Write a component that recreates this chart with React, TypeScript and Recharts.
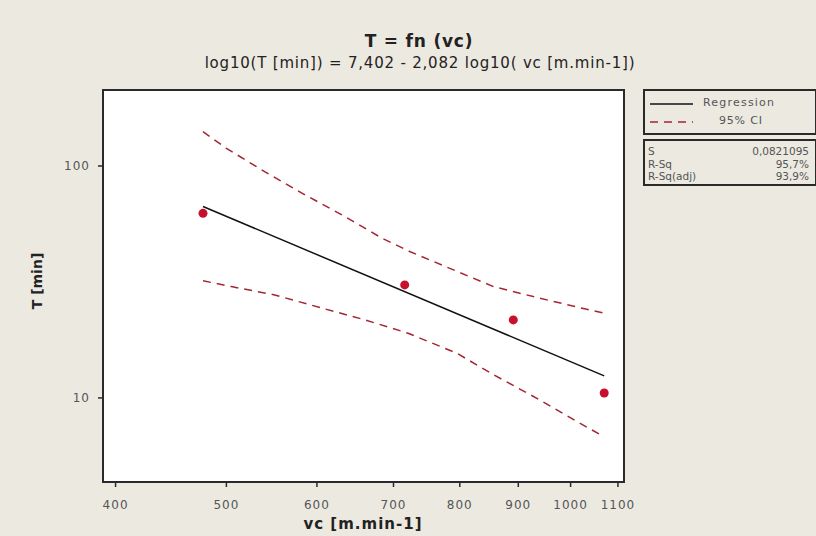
import React from "react";
import { ComposedChart, Line, Scatter, XAxis, YAxis } from "recharts";

const vcObs = [477, 716, 891, 1070];
const tObs = [62.5, 30.7, 21.7, 10.5];

const fitVc = [477, 1070];
const fitT = [66.9, 12.44];

const upperVc = [477, 500, 540, 586, 635, 684, 724, 784, 856, 940, 1033, 1071];
const upperT = [140.5, 119.2, 94.5, 75.0, 60.5, 48.8, 42.7, 36.2, 30.2, 26.9, 24.1, 23.2];

const lowerVc = [477, 505, 551, 606, 661, 721, 795, 856, 940, 1013, 1070];
const lowerT = [32.0, 30.2, 27.8, 24.4, 21.7, 19.0, 15.6, 12.6, 9.8, 7.9, 6.8];

const xTicks = [400, 500, 600, 700, 800, 900, 1000, 1100];
const yTicks = [10, 100];

const statLabels = ["S", "R-Sq", "R-Sq(adj)"];
const statValues = ["0,0821095", "95,7%", "93,9%"];

const zip = (xs: number[], ys: number[]) => xs.map((x, i) => ({ x, y: ys[i] }));

const obsData = zip(vcObs, tObs);
const fitData = zip(fitVc, fitT);
const upperData = zip(upperVc, upperT);
const lowerData = zip(lowerVc, lowerT);

const BG = "#ECE9E1";
const CI_COLOR = "#A32633";
const PT_COLOR = "#C8102E";
const FONT = "'DejaVu Sans', sans-serif";

const tickStyle = { fontSize: 12, fill: "#555", fontFamily: FONT, letterSpacing: 1 };

export default function App() {
  return (
    <div style={{ position: "absolute", left: 0, top: 0, width: 816, height: 536, background: BG, fontFamily: FONT, overflow: "hidden" }}>
      {/* Plot background and frame */}
      <div style={{ position: "absolute", left: 102, top: 89, width: 523, height: 394, background: "#fff", border: "2px solid #2a2a2a", boxSizing: "border-box" }} />
      <div style={{ position: "absolute", left: 0, top: 0 }}>
        <ComposedChart width={816} height={536} margin={{ top: 90, right: 192, bottom: 24, left: 43 }}>
          <XAxis
            dataKey="x"
            type="number"
            scale="log"
            domain={[390, 1113.5]}
            allowDataOverflow
            ticks={xTicks}
            interval={0}
            height={30}
            axisLine={false}
            tickLine={{ stroke: "#2a2a2a", strokeWidth: 1.5 }}
            tickSize={5}
            tickMargin={13}
            tick={tickStyle}
          />
          <YAxis
            dataKey="y"
            type="number"
            scale="log"
            domain={[4.34, 212.6]}
            allowDataOverflow
            ticks={yTicks}
            interval={0}
            width={60}
            axisLine={false}
            tickLine={{ stroke: "#2a2a2a", strokeWidth: 1.5 }}
            tickSize={5}
            tickMargin={8}
            tick={tickStyle}
          />
          <Line data={upperData} dataKey="y" type="linear" stroke={CI_COLOR} strokeWidth={1.5} strokeDasharray="8 6" dot={false} isAnimationActive={false} />
          <Line data={lowerData} dataKey="y" type="linear" stroke={CI_COLOR} strokeWidth={1.5} strokeDasharray="8 6" dot={false} isAnimationActive={false} />
          <Line data={fitData} dataKey="y" type="linear" stroke="#111" strokeWidth={1.5} dot={false} isAnimationActive={false} />
          <Scatter
            data={obsData}
            dataKey="y"
            isAnimationActive={false}
            shape={(p: any) => <circle cx={p.cx} cy={p.cy} r={4.5} fill={PT_COLOR} />}
          />
        </ComposedChart>
      </div>

      {/* Titles */}
      <div style={{ position: "absolute", left: 219, width: 400, top: 31, textAlign: "center", fontSize: 17, fontWeight: "bold", color: "#222", letterSpacing: 0.8 }}>T = fn (vc)</div>
      <div style={{ position: "absolute", left: 120, width: 600, top: 54, textAlign: "center", fontSize: 15, color: "#222", whiteSpace: "nowrap", letterSpacing: 0.8 }}>
        log10(T [min]) = 7,402 - 2,082 log10( vc [m.min-1])
      </div>

      {/* Axis labels */}
      <div style={{ position: "absolute", left: 263, width: 200, top: 515, textAlign: "center", fontSize: 15, fontWeight: "bold", color: "#222", letterSpacing: 1 }}>vc [m.min-1]</div>
      <div style={{ position: "absolute", left: 37, top: 281, width: 0, height: 0 }}>
        <div style={{ position: "absolute", left: -50, top: -10, width: 100, height: 20, lineHeight: "20px", textAlign: "center", fontSize: 14, fontWeight: "bold", color: "#222", transform: "rotate(-90deg)" }}>T [min]</div>
      </div>

      {/* Legend box */}
      <div style={{ position: "absolute", left: 643, top: 89, width: 174, height: 46, border: "2px solid #2a2a2a", boxSizing: "border-box", background: BG }}>
        <svg width={50} height={42} style={{ position: "absolute", left: 3, top: 0 }}>
          <line x1={2} y1={13} x2={45} y2={13} stroke="#111" strokeWidth={1.5} />
          <line x1={2} y1={31} x2={45} y2={31} stroke={CI_COLOR} strokeWidth={1.5} strokeDasharray="8 6" />
        </svg>
        <div style={{ position: "absolute", left: 58, top: 5, fontSize: 11, color: "#555", letterSpacing: 1.2 }}>Regression</div>
        <div style={{ position: "absolute", left: 74, top: 23, fontSize: 11, color: "#555", letterSpacing: 0.8 }}>95% CI</div>
      </div>

      {/* Stats box */}
      <div style={{ position: "absolute", left: 643, top: 139, width: 174, height: 47, border: "2px solid #2a2a2a", boxSizing: "border-box", background: BG }}>
        {statLabels.map((l, i) => (
          <div key={l} style={{ position: "absolute", left: 3, top: 4 + i * 12.5, width: 161, fontSize: 10.5, color: "#555", display: "flex", justifyContent: "space-between", lineHeight: "13px" }}>
            <span>{l}</span>
            <span>{statValues[i]}</span>
          </div>
        ))}
      </div>
    </div>
  );
}
